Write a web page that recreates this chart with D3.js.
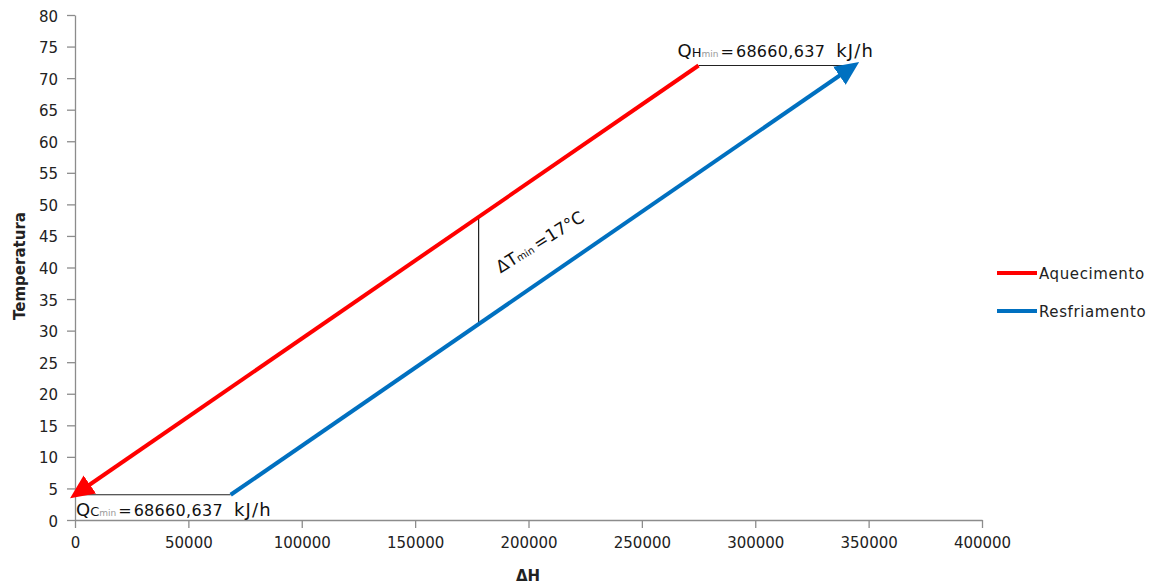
<!DOCTYPE html>
<html>
<head>
<meta charset="utf-8">
<script src="https://cdn.jsdelivr.net/npm/d3@7"></script>
<style>
  body { margin: 0; background: #fff; }
  text { font-family: "DejaVu Sans", Verdana, sans-serif; }
</style>
</head>
<body>
<div id="chart"></div>
<script>
// data
const xTicks = [0, 50000, 100000, 150000, 200000, 250000, 300000, 350000, 400000];
const yTicks = [0, 5, 10, 15, 20, 25, 30, 35, 40, 45, 50, 55, 60, 65, 70, 75, 80];
const seriesNames = ["Aquecimento", "Resfriamento"];
const heatH = [275000, 0];        // red, arrow at the end
const heatT = [72, 4];
const coolH = [68660, 343660];    // blue, arrow at the end
const coolT = [4, 72];
const qhH = [275000, 343660];     // QH min bar
const qhT = [72, 72];
const qcH = [0, 68660];           // QC min bar
const qcT = [4, 4];
const dtH = [178000, 178000];     // delta T min
const dtT = [31, 48];
const qValue = "68660,637";
const qUnit = "kJ/h";
const dtLabel = "=17°C";

const W = 1156, H = 586;
const margin = {top: 15, right: 174, bottom: 66, left: 75};

const svg = d3.select("#chart").append("svg").attr("width", W).attr("height", H);

const x = d3.scaleLinear().domain([0, 400000]).range([margin.left, 982]);
const y = d3.scaleLinear().domain([0, 80]).range([520, margin.top]);

const axisColor = "#8c8c8c";

const gx = svg.append("g").attr("transform", "translate(0," + y(0) + ")")
  .call(d3.axisBottom(x).tickValues(xTicks).tickFormat(d3.format("d")).tickSize(8).tickPadding(9).tickSizeOuter(0));
const gy = svg.append("g").attr("transform", "translate(" + x(0) + ",0)")
  .call(d3.axisLeft(y).tickValues(yTicks).tickSize(8).tickPadding(9).tickSizeOuter(0));

[gx, gy].forEach(g => {
  g.select(".domain").attr("stroke", axisColor).attr("stroke-width", 1.3);
  g.selectAll(".tick line").attr("stroke", axisColor).attr("stroke-width", 1.3);
  g.selectAll(".tick text").attr("fill", "#222").attr("font-size", 15)
    .attr("font-family", "DejaVu Sans, sans-serif");
});
gy.selectAll(".tick text").attr("dy", "0.4em");

// axis titles
svg.append("text").attr("x", 528).attr("y", 581).attr("text-anchor", "middle")
  .attr("font-size", 15).attr("font-weight", "bold").attr("fill", "#222").text("ΔH");
svg.append("text").attr("transform", "translate(25,266) rotate(-90)").attr("text-anchor", "middle")
  .attr("font-size", 15).attr("font-weight", "bold").attr("fill", "#222").text("Temperatura");

// arrow markers
const defs = svg.append("defs");
function marker(id, color) {
  defs.append("marker").attr("id", id)
    .attr("markerUnits", "userSpaceOnUse")
    .attr("viewBox", "0 -12 24 24")
    .attr("refX", 18).attr("refY", 0)
    .attr("markerWidth", 24).attr("markerHeight", 24)
    .attr("orient", "auto")
    .append("path").attr("d", "M0,-11L24,0L0,11Z").attr("fill", color);
}
marker("arrRed", "#ff0000");
marker("arrBlue", "#0070c0");

const line = d3.line().x(d => x(d[0])).y(d => y(d[1]));
const pts = (a, b) => a.map((v, i) => [v, b[i]]);

// thin black annotation lines
[[qhH, qhT], [qcH, qcT], [dtH, dtT]].forEach(([a, b]) => {
  svg.append("path").attr("d", line(pts(a, b))).attr("fill", "none")
    .attr("stroke", "#222").attr("stroke-width", 1.2);
});

svg.append("path").attr("d", line(pts(heatH, heatT))).attr("fill", "none")
  .attr("stroke", "#ff0000").attr("stroke-width", 4).attr("marker-end", "url(#arrRed)");
svg.append("path").attr("d", line(pts(coolH, coolT))).attr("fill", "none")
  .attr("stroke", "#0070c0").attr("stroke-width", 4).attr("marker-end", "url(#arrBlue)");

// Q labels
function qLabel(px, py, sub) {
  const t = svg.append("text").attr("x", px).attr("y", py).attr("fill", "#111").attr("font-size", 16);
  t.append("tspan").attr("font-size", 18).text("Q");
  t.append("tspan").attr("font-size", 13).text(sub);
  t.append("tspan").attr("font-size", 9).attr("fill", "#999").text("min");
  t.append("tspan").attr("dx", 2).text("=");
  t.append("tspan").attr("dx", 2).attr("letter-spacing", 0.3).text(qValue);
  t.append("tspan").attr("dx", 11).attr("font-size", 18).attr("letter-spacing", 1.2).text(qUnit);
}
qLabel(x(qhH[0]) - 21, y(72) - 9, "H");
qLabel(x(0) + 1, y(qcT[0]) + 21, "C");

// delta T label
const dt = svg.append("text")
  .attr("transform", "translate(" + (x(dtH[0]) + 22) + "," + (y(40) + 6) + ") rotate(-32)")
  .attr("fill", "#111").attr("font-size", 17);
dt.append("tspan").text("ΔT");
dt.append("tspan").attr("font-size", 10).text("min ");
dt.append("tspan").text(dtLabel);

// legend
const legColors = ["#ff0000", "#0070c0"];
const leg = svg.append("g");
seriesNames.forEach((n, i) => {
  const ly = 273 + i * 38;
  leg.append("line").attr("x1", 997).attr("x2", 1037).attr("y1", ly).attr("y2", ly)
    .attr("stroke", legColors[i]).attr("stroke-width", 4);
  leg.append("text").attr("x", 1039).attr("y", ly + 6).attr("font-size", 15)
    .attr("letter-spacing", 0.6).attr("fill", "#222").text(n);
});
</script>
</body>
</html>
